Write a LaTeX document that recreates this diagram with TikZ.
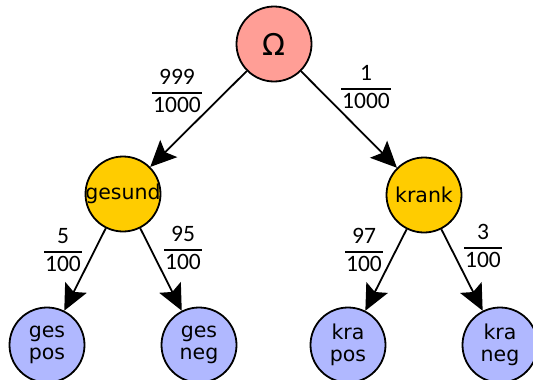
\documentclass[tikz,border=0pt]{standalone}
\usepackage{fontspec}
\setmainfont{DejaVu Sans}
\newfontfamily\fracfont{Carlito}
\usetikzlibrary{arrows.meta}
\definecolor{rootc}{RGB}{255,158,150}
\definecolor{midc}{RGB}{255,204,0}
\definecolor{leafc}{RGB}{176,184,255}
\newcommand{\myfr}[2]{\begin{tabular}{@{\hspace{0.8pt}}c@{\hspace{0.8pt}}}#1\\\hline #2\end{tabular}}
\begin{document}
\begin{tikzpicture}[x=1pt,y=-1pt,
  circ/.style={circle, draw, line width=1.8pt, minimum size=75pt, inner sep=0pt, align=center, font=\fontsize{20.5}{22.5}\selectfont},
  rootn/.style={circ, fill=rootc, font=\fontsize{30}{32}\selectfont},
  midn/.style={circ, fill=midc},
  leafn/.style={circ, fill=leafc},
  edge/.style={line width=1.8pt, -{Stealth[length=26pt,width=24pt,inset=5pt]}},
  prob/.style={inner sep=0pt, font=\fracfont\fontsize{23.5}{27.6}\selectfont\setlength\arrayrulewidth{1.3pt}}]
\useasboundingbox (0,0) rectangle (533,380);
\node[rootn] (root) at (274,44) {Ω};
\node[midn] (ges) at (123,194) {\makebox[0pt][c]{gesund}};
\node[midn] (kra) at (424,195) {\makebox[0pt][c]{krank}};
\node[leafn] (gp) at (47,345) {ges\\pos};
\node[leafn] (gn) at (199,345) {ges\\neg};
\node[leafn] (kp) at (348,345) {kra\\pos};
\node[leafn] (kn) at (500,345) {kra\\neg};
\draw[edge] (root) -- (ges);
\draw[edge] (root) -- (kra);
\draw[edge] (ges) -- (gp);
\draw[edge] (ges) -- (gn);
\draw[edge] (kra) -- (kp);
\draw[edge] (kra) -- (kn);
\node[prob] (p1) at (177,93) {\myfr{999}{1000}};
\node[prob] (p2) at (366,89) {\myfr{1}{1000}};
\node[prob] (p3) at (63,252) {\myfr{5}{100}};
\node[prob] (p4) at (183,250) {\myfr{95}{100}};
\node[prob] (p5) at (364,252) {\myfr{97}{100}};
\node[prob] (p6) at (483,248) {\myfr{3}{100}};
\end{tikzpicture}
\end{document}
